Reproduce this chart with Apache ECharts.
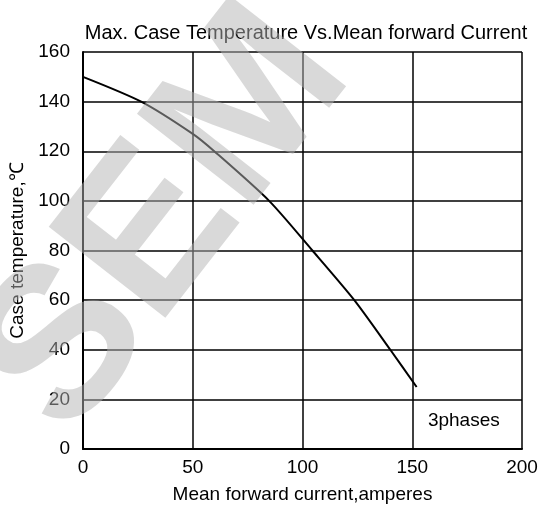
<!DOCTYPE html>
<html><head><meta charset="utf-8">
<script src="https://cdn.jsdelivr.net/npm/echarts@6/dist/echarts.min.js"></script>
<style>html,body{margin:0;padding:0;background:#fff}#c{width:542px;height:515px}</style>
</head><body><div id="c"></div>
<script>
const currentA = [0, 26.5, 50, 59.8, 84.8, 104.5, 123.6, 140, 152];
const caseTempC = [150, 140, 127, 120, 100, 80, 60, 40, 25];
const xTicks = [0, 50, 100, 150, 200];
const yTicks = [0, 20, 40, 60, 80, 100, 120, 140, 160];
const titleText = 'Max. Case Temperature Vs.Mean forward Current';
const xName = 'Mean forward current,amperes';
const yName = 'Case temperature,\u2103';
const noteText = '3phases';
const noteAt = [173.5, 11.5];
const watermarkText = 'SEM';

const F = 'Liberation Sans, Arial, sans-serif';
const chart = echarts.init(document.getElementById('c'), null, {renderer: 'canvas'});
chart.setOption({
  backgroundColor: '#fff',
  animation: false,
  title: {text: titleText, left: 301, top: 18, textAlign: 'center',
    textStyle: {fontFamily: F, fontSize: 20, fontWeight: 'normal', color: '#000'}},
  graphic: [{type: 'text', x: 165, y: 222, rotation: 52 * Math.PI / 180, z: 100, silent: true,
    style: {text: watermarkText, x: 0, y: 0, align: 'center', verticalAlign: 'middle',
      font: 'bold 215px ' + F, fill: 'rgba(180,180,180,0.5)'}}],
  grid: {left: 82, right: 20, top: 52, bottom: 66},
  xAxis: {type: 'value', min: xTicks[0], max: xTicks[xTicks.length - 1], interval: 50,
    name: xName, nameLocation: 'middle', nameGap: 36,
    nameTextStyle: {fontFamily: F, fontSize: 19, color: '#000'},
    axisLine: {show: true, lineStyle: {color: '#000', width: 2}},
    axisTick: {show: false},
    axisLabel: {fontFamily: F, fontSize: 19, color: '#000', margin: 9},
    splitLine: {show: true, lineStyle: {color: '#000', width: 1.5}}},
  yAxis: {type: 'value', min: yTicks[0], max: yTicks[yTicks.length - 1], interval: 20,
    name: yName, nameLocation: 'middle', nameGap: 56,
    nameTextStyle: {fontFamily: F, fontSize: 19, color: '#000'},
    axisLine: {show: true, lineStyle: {color: '#000', width: 2}},
    axisTick: {show: false},
    axisLabel: {fontFamily: F, fontSize: 19, color: '#000', margin: 13},
    splitLine: {show: true, lineStyle: {color: '#000', width: 1.5}}},
  series: [{type: 'line', data: currentA.map((x, i) => [x, caseTempC[i]]),
    smooth: 0.25, showSymbol: false, lineStyle: {color: '#000', width: 2},
    markPoint: {symbol: 'circle', symbolSize: 0, silent: true,
      data: [{coord: noteAt, label: {show: true, position: 'inside', formatter: noteText,
        fontFamily: F, fontSize: 19, color: '#000'}}]}}]
});
</script></body></html>
